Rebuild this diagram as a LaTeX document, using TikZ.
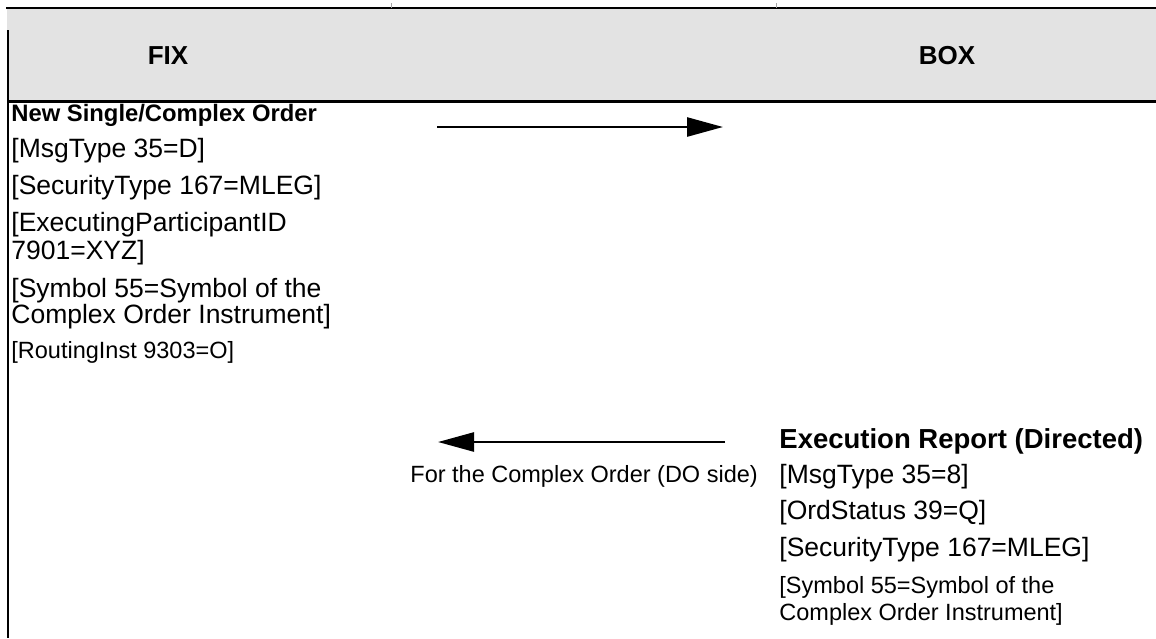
\documentclass[tikz,border=0pt]{standalone}
\usepackage{fontspec}
\setmainfont{Liberation Sans}
\usetikzlibrary{arrows.meta}
\definecolor{hdrgray}{RGB}{227,227,227}
\begin{document}
\begin{tikzpicture}[x=0.5pt,y=-0.5pt,
  lbl/.style={anchor=base west,inner sep=0pt,font=\fontsize{13.25}{15}\selectfont},
  sml/.style={anchor=base west,inner sep=0pt,font=\fontsize{11.75}{14}\selectfont},
  smlbold/.style={anchor=base west,inner sep=0pt,font=\fontsize{11.9}{14}\selectfont\bfseries},
  bigbold/.style={anchor=base west,inner sep=0pt,font=\fontsize{13.75}{16}\selectfont\bfseries},
  colhead/.style={anchor=base,inner sep=0pt,font=\fontsize{13}{16}\selectfont\bfseries},
  msgarrow/.style={line width=1.3pt,-{Triangle[length=18pt,width=9.5pt]}}]
\useasboundingbox (0,0) rectangle (1156,638);
% header
\fill[hdrgray] (7,8) rectangle (1156,101);
\draw[line width=0.75pt] (6,8) -- (1156,8);
\draw[line width=1.5pt] (7,101) -- (1156,101);
\draw[line width=1.2pt] (8,30) -- (8,638);
\draw[gray!70,line width=0.3pt] (391,3) -- (391,8);
\draw[gray!70,line width=0.3pt] (776,3) -- (776,8);
\node[colhead] (fix) at (168,64) {FIX};
\node[colhead] (box) at (947,64) {BOX};
% left message
\node[smlbold] (l0) at (11,121.5) {New Single/Complex Order};
\node[lbl] (l1) at (11,157.5) {[MsgType 35=D]};
\node[lbl] (l2) at (11,194.5) {[SecurityType 167=MLEG]};
\node[lbl] (l3) at (11,231.5) {[ExecutingParticipantID};
\node[lbl] (l4) at (11,259.5) {7901=XYZ]};
\node[lbl] (l5) at (11,297.5) {[Symbol 55=Symbol of the};
\node[lbl] (l6) at (11,323.5) {Complex Order Instrument]};
\node[sml] (l7) at (11,358.5) {[RoutingInst 9303=O]};
% right message
\node[bigbold] (r0) at (779,448) {Execution Report (Directed)};
\node[lbl] (r1) at (779,483.5) {[MsgType 35=8]};
\node[lbl] (r2) at (779,519.5) {[OrdStatus 39=Q]};
\node[lbl] (r3) at (779,556.5) {[SecurityType 167=MLEG]};
\node[sml] (r4) at (779,593.5) {[Symbol 55=Symbol of the};
\node[sml] (r5) at (779,620.5) {Complex Order Instrument]};
\node[sml] (lab) at (410,482.5) {For the Complex Order (DO side)};
% arrows
\coordinate (a1s) at (437,127);
\coordinate (a1e) at (723,127);
\coordinate (a2s) at (725,442);
\coordinate (a2e) at (438,442);
\draw[msgarrow] (a1s) -- (a1e);
\draw[msgarrow] (a2s) -- (a2e);
\end{tikzpicture}
\end{document}
